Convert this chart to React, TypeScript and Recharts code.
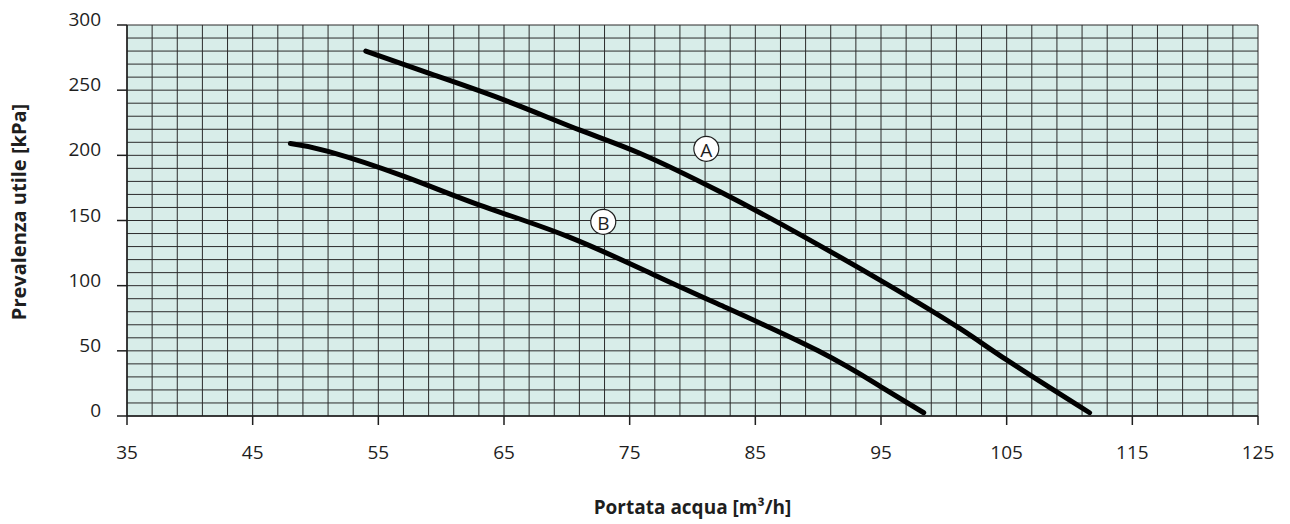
import React from 'react';
import {
  LineChart,
  Line,
  XAxis,
  YAxis,
  CartesianGrid,
  ReferenceDot,
  Label
} from 'recharts';

// Pump curves: available head vs water flow
const curveA = [
  { x: 54, y: 280 },
  { x: 59, y: 263 },
  { x: 65, y: 242.5 },
  { x: 71, y: 219.5 },
  { x: 75.8, y: 201.6 },
  { x: 82.2, y: 172 },
  { x: 88.6, y: 139 },
  { x: 95.5, y: 101 },
  { x: 101.3, y: 67 },
  { x: 105, y: 43 },
  { x: 111.6, y: 2.5 }
];

const curveB = [
  { x: 48, y: 209 },
  { x: 51, y: 203 },
  { x: 57, y: 184 },
  { x: 63, y: 162 },
  { x: 70, y: 138 },
  { x: 77, y: 108 },
  { x: 82.7, y: 83 },
  { x: 90, y: 50 },
  { x: 94.9, y: 23 },
  { x: 98.4, y: 2.5 }
];

const xTicks = [35, 45, 55, 65, 75, 85, 95, 105, 115, 125];
const yTicks = [0, 50, 100, 150, 200, 250, 300];

// minor grid: every 2 m3/h and every 10 kPa
const gridX: number[] = [];
for (let v = 35; v <= 125; v += 2) gridX.push(v);
const gridY: number[] = [];
for (let v = 0; v <= 300; v += 10) gridY.push(v);

const curveLabels = [
  { name: 'A', x: 81.1, y: 205 },
  { name: 'B', x: 72.9, y: 149 }
];

const FONT = '"Open Sans", "DejaVu Sans", sans-serif';
const INK = '#1e1e1e';

const YTick = ({ x, y, payload }: any) => (
  <text
    x={x}
    y={y - 6}
    textAnchor="end"
    dominantBaseline="central"
    fontFamily={FONT}
    fontSize={19}
    fill={INK}
  >
    {payload.value}
  </text>
);

const XTick = ({ x, payload }: any) => (
  <text
    x={x}
    y={452}
    textAnchor="middle"
    dominantBaseline="central"
    fontFamily={FONT}
    fontSize={19}
    fill={INK}
  >
    {payload.value}
  </text>
);

const CircleLabel = ({ viewBox, value }: any) => {
  const cx = viewBox.x + viewBox.width / 2;
  const cy = viewBox.y + viewBox.height / 2;
  return (
    <text
      x={cx}
      y={cy + 1}
      textAnchor="middle"
      dominantBaseline="central"
      fontFamily={FONT}
      fontSize={19}
      fill={INK}
    >
      {value}
    </text>
  );
};

export default function App() {
  return (
    <div style={{ position: 'absolute', left: 0, top: 0, background: '#fff' }}>
      <LineChart
        width={1290}
        height={524}
        margin={{ top: 25, right: 32, bottom: 0, left: 0 }}
      >
        <CartesianGrid
          fill="#d8ede9"
          stroke="#2b2b2b"
          strokeWidth={1}
          horizontalValues={gridY}
          verticalValues={gridX}
        />
        <XAxis
          type="number"
          dataKey="x"
          domain={[35, 125]}
          ticks={xTicks}
          interval={0}
          height={108}
          tickSize={9}
          tick={<XTick />}
          axisLine={{ stroke: INK, strokeWidth: 1.5 }}
          tickLine={{ stroke: INK, strokeWidth: 1.5 }}
        >
          <Label
            content={() => (
              <text
                x={692.5}
                y={507}
                textAnchor="middle"
                dominantBaseline="central"
                fontFamily={FONT}
                fontWeight="bold"
                fontSize={19}
                fill={INK}
              >
                Portata acqua [m³/h]
              </text>
            )}
          />
        </XAxis>
        <YAxis
          type="number"
          domain={[0, 300]}
          ticks={yTicks}
          interval={0}
          width={127}
          tickSize={10}
          tickMargin={16}
          tick={<YTick />}
          axisLine={{ stroke: INK, strokeWidth: 1.5 }}
          tickLine={{ stroke: INK, strokeWidth: 1.5 }}
        >
          <Label
            content={() => (
              <text
                x={18}
                y={212}
                transform="rotate(-90 18 212)"
                textAnchor="middle"
                dominantBaseline="central"
                fontFamily={FONT}
                fontWeight="bold"
                fontSize={20}
                fill={INK}
              >
                Prevalenza utile [kPa]
              </text>
            )}
          />
        </YAxis>
        <Line
          data={curveA}
          dataKey="y"
          type="natural"
          stroke="#000"
          strokeWidth={5}
          strokeLinecap="round"
          dot={false}
          activeDot={false}
          isAnimationActive={false}
        />
        <Line
          data={curveB}
          dataKey="y"
          type="natural"
          stroke="#000"
          strokeWidth={5}
          strokeLinecap="round"
          dot={false}
          activeDot={false}
          isAnimationActive={false}
        />
        {curveLabels.map((c) => (
          <ReferenceDot
            key={c.name}
            x={c.x}
            y={c.y}
            r={12.5}
            fill="#fff"
            stroke={INK}
            strokeWidth={1.2}
            label={<CircleLabel value={c.name} />}
          />
        ))}
      </LineChart>
    </div>
  );
}
